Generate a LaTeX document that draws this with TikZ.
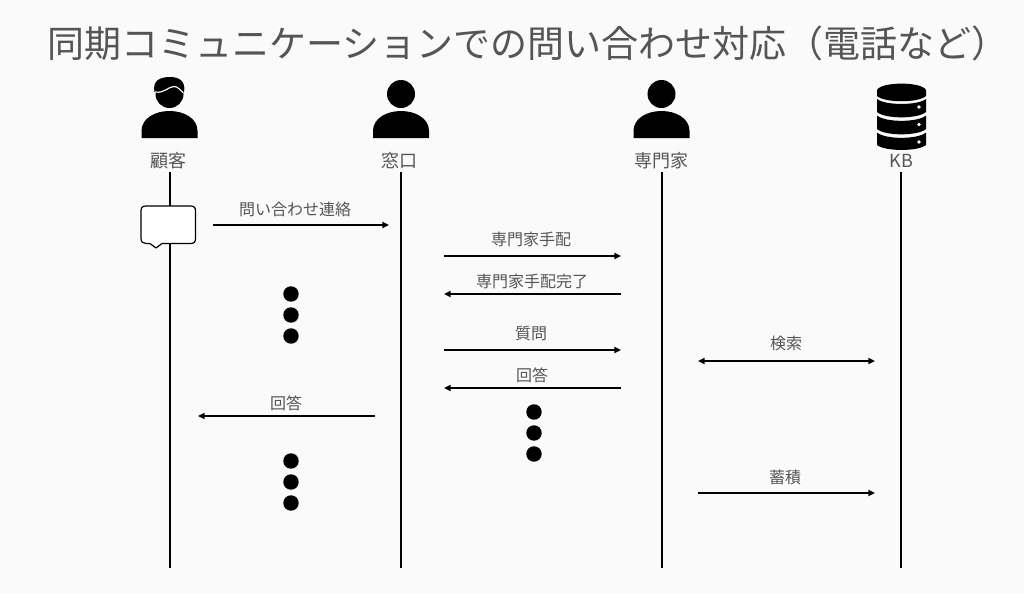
\documentclass[tikz,border=0pt]{standalone}
\usepackage{fontspec}
\setmainfont{Noto Sans CJK JP}
\usetikzlibrary{arrows.meta}
\definecolor{bg}{HTML}{FAFAFA}
\definecolor{txt}{HTML}{555555}
\tikzset{
  x=0.75pt,y=-0.75pt,
  life/.style={line width=1.5pt,black},
  msg/.style={line width=1.3pt,black,-{Triangle[length=5pt,width=4.5pt]}},
  msgboth/.style={line width=1.3pt,black,{Triangle[length=5pt,width=4.5pt]}-{Triangle[length=5pt,width=4.5pt]}},
  lbl/.style={text=txt,font=\fontsize{12pt}{14pt}\selectfont,inner sep=0pt},
  actor/.style={text=txt,font=\fontsize{13.5pt}{15pt}\selectfont,inner sep=0pt},
  dotm/.style={circle,fill=black,minimum size=11.6pt,inner sep=0pt},
}
\newcommand{\personicon}[1]{%
  \fill[black] (#1,94) circle[radius=14];
  \fill[black] (#1-28,138) -- (#1-28,131) .. controls (#1-28,118) and (#1-14,111) .. (#1,111)
     .. controls (#1+14,111) and (#1+28,118) .. (#1+28,131) -- (#1+28,138) -- cycle;
}
\newcommand{\dbband}[4]{% top edge, top centre, bottom edge, bottom centre
  \fill[black] (877,#1) .. controls (885,#2+1.6) and (918,#2+1.6) .. (926,#1) -- (926,#3)
     .. controls (918,#4+1.6) and (885,#4+1.6) .. (877,#3) -- cycle;
}
\begin{document}
\begin{tikzpicture}
\useasboundingbox (0,0) rectangle (1024,593);
\fill[bg] (0,0) rectangle (1024,593);
\node[text=txt,font=\fontsize{27.75pt}{30pt}\selectfont,inner sep=0pt] (title) at (528,43) {同期コミュニケーションでの問い合わせ対応（電話など）};

% icons
\personicon{169.5}
\fill[black] (154.5,92) .. controls (152,80) and (161,77) .. (170,77)
  .. controls (179,77) and (186,81) .. (184,92) -- cycle;
\draw[bg,line width=0.9pt] (155,92) .. controls (165,93.5) and (168,86.5) .. (174,86.5) .. controls (178,86.5) and (180,90) .. (183,92.5);
\personicon{401}
\personicon{661.5}
% database
\fill[black] (877,90) .. controls (881,81.5) and (922,81.5) .. (926,90) -- (926,96)
   .. controls (918,103) and (885,103) .. (877,96) -- cycle;
\dbband{99}{104}{112}{117.5}
\dbband{115.5}{121}{129}{134.5}
\dbband{132.5}{138}{145}{150}
\fill[bg] (919,107) circle[radius=1.8] (919,124.5) circle[radius=1.8] (919,142) circle[radius=1.8];

% actor labels
\node[actor] (kokyaku) at (168.5,160.5) {顧客};
\node[actor] (madoguchi) at (399.5,160.5) {窓口};
\node[actor] (senmonka) at (661.5,160.5) {専門家};
\node[actor] (kb) at (901.5,160.5) {KB};

\coordinate (kokyakuT) at (169.5,172);
\coordinate (madoguchiT) at (401,172);
\coordinate (senmonkaT) at (661.5,172);
\coordinate (kbT) at (900.5,172);
\coordinate (kokyakuB) at (169.5,568);
\coordinate (madoguchiB) at (401,568);
\coordinate (senmonkaB) at (661.5,568);
\coordinate (kbB) at (900.5,568);
\draw[life] (kokyakuT) -- (kokyakuB);
\draw[life] (madoguchiT) -- (madoguchiB);
\draw[life] (senmonkaT) -- (senmonkaB);
\draw[life] (kbT) -- (kbB);

% bubble
\draw[black,fill=white,line width=0.9pt,line join=round]
  (146,206) -- (190.5,206) .. controls (194,206) and (195.5,207.5) .. (195.5,211)
  -- (195.5,238.5) .. controls (195.5,242) and (194,243.5) .. (190.5,243.5)
  -- (162,243.5) -- (156,248) -- (150,243.5) -- (146,243.5)
  .. controls (143,243.5) and (141,242) .. (141,238.5) -- (141,211)
  .. controls (141,207.5) and (142.5,206) .. (146,206) -- cycle;

% message ends
\coordinate (a1) at (213,225); \coordinate (b1) at (389,225);
\coordinate (a2) at (444,256); \coordinate (b2) at (621,256);
\coordinate (a3) at (621,294); \coordinate (b3) at (444,294);
\coordinate (a4) at (444,350); \coordinate (b4) at (621,350);
\coordinate (a5) at (621,388); \coordinate (b5) at (444,388);
\coordinate (a6) at (698,361); \coordinate (b6) at (875,361);
\coordinate (a7) at (375,416); \coordinate (b7) at (198,416);
\coordinate (a8) at (698,493); \coordinate (b8) at (875,493);
\draw[msg] (a1) -- (b1);
\draw[msg] (a2) -- (b2);
\draw[msg] (a3) -- (b3);
\draw[msg] (a4) -- (b4);
\draw[msg] (a5) -- (b5);
\draw[msgboth] (a6) -- (b6);
\draw[msg] (a7) -- (b7);
\draw[msg] (a8) -- (b8);

\node[lbl] (l1) at (295,209) {問い合わせ連絡};
\node[lbl] (l2) at (531,239.5) {専門家手配};
\node[lbl] (l3) at (532,281.5) {専門家手配完了};
\node[lbl] (l4) at (531,333.5) {質問};
\node[lbl] (l5) at (532,375.5) {回答};
\node[lbl] (l6) at (786,343.5) {検索};
\node[lbl] (l7) at (286,403.5) {回答};
\node[lbl] (l8) at (785,477.5) {蓄積};

% ellipsis dots
\node[dotm] (d1) at (291,294) {};
\node[dotm] (d2) at (291,315) {};
\node[dotm] (d3) at (291,336) {};
\node[dotm] (d4) at (534,412) {};
\node[dotm] (d5) at (534,433) {};
\node[dotm] (d6) at (534,454) {};
\node[dotm] (d7) at (291,461) {};
\node[dotm] (d8) at (291,482) {};
\node[dotm] (d9) at (291,503) {};
\end{tikzpicture}
\end{document}
